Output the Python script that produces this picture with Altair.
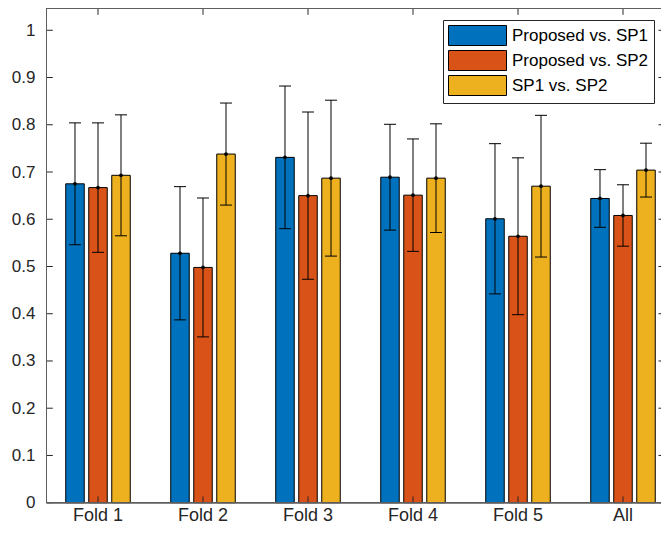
import altair as alt
import pandas as pd

folds = ["Fold 1", "Fold 2", "Fold 3", "Fold 4", "Fold 5", "All"]
series = ["Proposed vs. SP1", "Proposed vs. SP2", "SP1 vs. SP2"]
colors = ["#0072BD", "#D95319", "#EDB120"]

mean_p_sp1 = [0.675, 0.528, 0.731, 0.689, 0.601, 0.644]
err_p_sp1 = [0.129, 0.141, 0.151, 0.112, 0.159, 0.061]
mean_p_sp2 = [0.667, 0.498, 0.650, 0.651, 0.564, 0.608]
err_p_sp2 = [0.137, 0.147, 0.177, 0.119, 0.166, 0.065]
mean_sp1_sp2 = [0.693, 0.738, 0.687, 0.687, 0.670, 0.704]
err_sp1_sp2 = [0.128, 0.108, 0.165, 0.115, 0.150, 0.057]

y_ticks = [0, 0.1, 0.2, 0.3, 0.4, 0.5, 0.6, 0.7, 0.8, 0.9, 1.0]

rows = []
for s, means, errs in zip(series,
                          [mean_p_sp1, mean_p_sp2, mean_sp1_sp2],
                          [err_p_sp1, err_p_sp2, err_sp1_sp2]):
    for f, m, e in zip(folds, means, errs):
        rows.append({"fold": f, "series": s, "mean": m, "lo": m - e, "hi": m + e})
df = pd.DataFrame(rows)

W = 614.5
H = 494.2
YMAX = 1.0461
TL = 6.3
FONT = "Liberation Sans"
AX = "#262626"
FRAME = "#5e5e5e"

xscale = alt.Scale(paddingInner=0, paddingOuter=0, range=[-1, 629])
xenc = alt.X("fold:N", sort=folds, scale=xscale,
             axis=alt.Axis(title=None, labelAngle=0, ticks=False, domain=False,
                           labelPadding=18, labelBaseline="alphabetic",
                           labelFontSize=18, grid=False))
xoff = alt.XOffset("series:N", sort=series,
                   scale=alt.Scale(paddingInner=0.196, paddingOuter=0.88))
yscale = alt.Scale(domain=[0, YMAX], nice=False, zero=True)

base = alt.Chart(df).encode(x=xenc, xOffset=xoff)

bars = base.mark_bar(stroke="black", strokeWidth=1, opacity=1).encode(
    y=alt.Y("mean:Q", scale=yscale,
            axis=alt.Axis(values=y_ticks, title=None, grid=False, ticks=False,
                          domain=False, labelPadding=11.5, format="~g",
                          labelFontSize=17)),
    color=alt.Color("series:N", sort=series,
                    scale=alt.Scale(domain=series, range=colors),
                    legend=alt.Legend(title=None, orient="none", legendX=396.5, legendY=11.5,
                                      symbolType="M-1,-1H4.8V1H-1Z", symbolSize=400,
                                      symbolStrokeColor="black", symbolStrokeWidth=1,
                                      symbolOpacity=1, labelFontSize=17, labelFont=FONT,
                                      labelColor="#000000", labelOffset=43, rowPadding=0,
                                      columnPadding=0, padding=5, strokeColor=AX,
                                      fillColor="white", cornerRadius=0)),
)

rules = base.mark_rule(color="black", strokeWidth=1).encode(
    y=alt.Y("lo:Q", scale=yscale), y2="hi:Q")
cap_hi = base.mark_tick(color="black", size=12, thickness=1, opacity=1).encode(
    y=alt.Y("hi:Q", scale=yscale))
cap_lo = base.mark_tick(color="black", size=12, thickness=1, opacity=1).encode(
    y=alt.Y("lo:Q", scale=yscale))
dots = base.mark_point(filled=True, color="black", size=14, opacity=1).encode(
    y=alt.Y("mean:Q", scale=yscale))

ydf = pd.DataFrame({"v": y_ticks})
left_ticks = alt.Chart(ydf).mark_rule(color=AX, strokeWidth=1).encode(
    y=alt.Y("v:Q", scale=yscale), x=alt.value(0), x2=alt.value(TL))
right_ticks = alt.Chart(ydf).mark_rule(color=AX, strokeWidth=1).encode(
    y=alt.Y("v:Q", scale=yscale), x=alt.value(W - 2.5), x2=alt.value(W))

fdf = pd.DataFrame({"fold": folds})
top_ticks = alt.Chart(fdf).mark_rule(color=AX, strokeWidth=1).encode(
    x=alt.X("fold:N", sort=folds, scale=xscale), y=alt.value(0), y2=alt.value(TL))
bot_ticks = alt.Chart(fdf).mark_rule(color=AX, strokeWidth=1).encode(
    x=alt.X("fold:N", sort=folds, scale=xscale), y=alt.value(H - TL), y2=alt.value(H))

frame_left = alt.Chart(fdf).mark_rule(color=FRAME, strokeWidth=1).encode(
    x=alt.value(0), y=alt.value(0), y2=alt.value(H))
frame_top = alt.Chart(fdf).mark_rule(color=FRAME, strokeWidth=1).encode(
    y=alt.value(0), x=alt.value(0), x2=alt.value(W))
frame_bot = alt.Chart(fdf).mark_rule(color=FRAME, strokeWidth=1).encode(
    y=alt.value(H), x=alt.value(0), x2=alt.value(W))

chart = alt.layer(bars, rules, cap_hi, cap_lo, dots,
                  left_ticks, right_ticks, top_ticks, bot_ticks,
                  frame_left, frame_top, frame_bot).properties(
    width=W, height=H,
    autosize=alt.AutoSizeParams(type="none"),
    padding={"left": 38.5, "top": 0.5, "right": 0, "bottom": 23.3},
    background="white",
).configure_view(strokeWidth=0).configure_axis(
    labelFont=FONT, labelColor=AX
)

chart.save("out.html", embed_options={"renderer": "svg", "actions": False})
